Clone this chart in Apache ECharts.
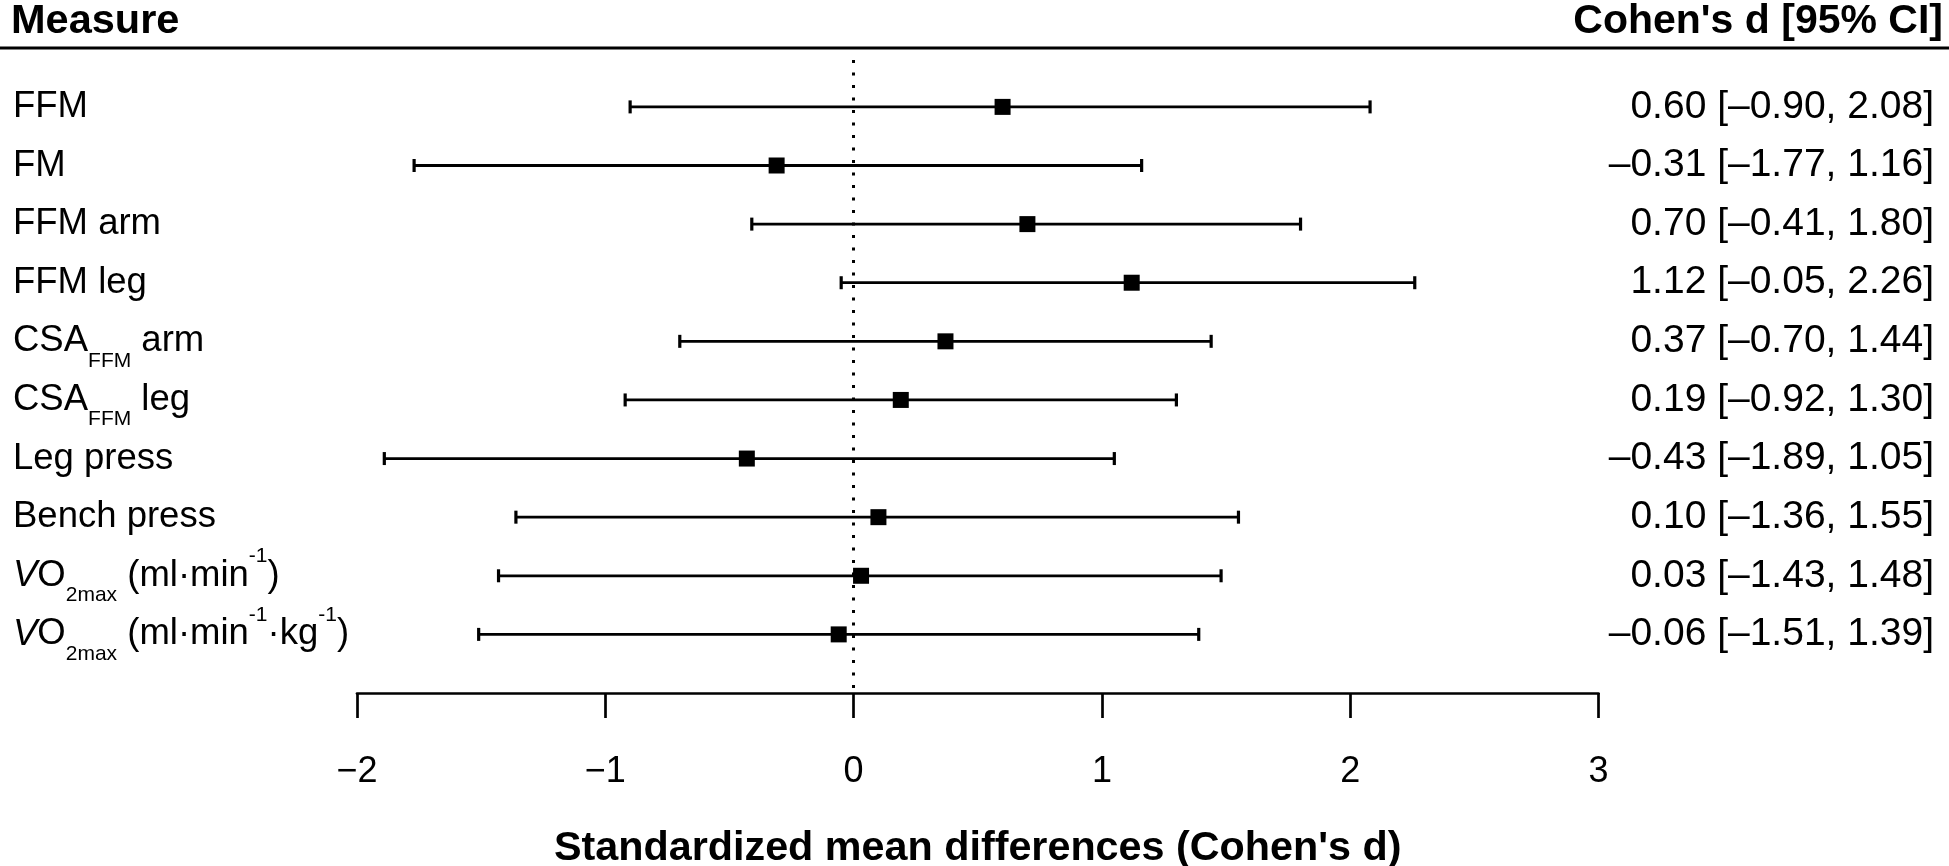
<!DOCTYPE html>
<html>
<head>
<meta charset="utf-8">
<script src="https://cdn.jsdelivr.net/npm/echarts@6/dist/echarts.min.js"></script>
<style>
  html, body { margin: 0; padding: 0; background: #fff; }
  #chart { width: 1949px; height: 866px; }
</style>
</head>
<body>
<div id="chart"></div>
<script>
// Measures (rich-text markup for sub/superscripts)
const measures = [
  'FFM',
  'FM',
  'FFM arm',
  'FFM leg',
  'CSA{sub|FFM} arm',
  'CSA{sub|FFM} leg',
  'Leg press',
  'Bench press',
  '{it|V}O{sub|2max} (ml·min{sup|-1})',
  '{it|V}O{sub|2max} (ml·min{sup|-1}·kg{sup|-1})'
];
const estimates = [0.60, -0.31, 0.70, 1.12, 0.37, 0.19, -0.43, 0.10, 0.03, -0.06];
const lowerCI   = [-0.90, -1.77, -0.41, -0.05, -0.70, -0.92, -1.89, -1.36, -1.43, -1.51];
const upperCI   = [2.08, 1.16, 1.80, 2.26, 1.44, 1.30, 1.05, 1.55, 1.48, 1.39];
const xTicks = [-2, -1, 0, 1, 2, 3];

const FONT = "'Liberation Sans', Arial, Helvetica, sans-serif";
const fmt = v => v.toFixed(2).replace('-', '\u2013');

const data = measures.map((m, i) => [i + 1, estimates[i], lowerCI[i], upperCI[i]]);

const chart = echarts.init(document.getElementById('chart'), null, { renderer: 'canvas' });

const baseRich = {
  it:  { fontFamily: FONT, fontSize: 36.5, fontStyle: 'italic', lineHeight: 60, fill: '#000' },
  sub: { fontFamily: FONT, fontSize: 21, lineHeight: 17, verticalAlign: 'bottom', fill: '#000' },
  sup: { fontFamily: FONT, fontSize: 21, lineHeight: 52, verticalAlign: 'top', fill: '#000' }
};

function renderItem(params, api) {
  const i = params.dataIndex;
  const row = api.value(0);
  const pEst = api.coord([api.value(1), row]);
  const pLo = api.coord([api.value(2), row]);
  const pHi = api.coord([api.value(3), row]);
  const y = pEst[1];
  const capH = 6.5;
  const half = 8;
  return {
    type: 'group',
    children: [
      { type: 'line', shape: { x1: pLo[0], y1: y, x2: pHi[0], y2: y },
        style: { stroke: '#000', lineWidth: 2.8 } },
      { type: 'line', shape: { x1: pLo[0], y1: y - capH, x2: pLo[0], y2: y + capH },
        style: { stroke: '#000', lineWidth: 3.2 } },
      { type: 'line', shape: { x1: pHi[0], y1: y - capH, x2: pHi[0], y2: y + capH },
        style: { stroke: '#000', lineWidth: 3.2 } },
      { type: 'rect', shape: { x: pEst[0] - half, y: y - half, width: half * 2, height: half * 2 },
        style: { fill: '#000' } },
      { type: 'text', x: 13, y: y,
        style: {
          text: measures[i],
          fontFamily: FONT, fontSize: 36.5, lineHeight: 60, fill: '#000',
          align: 'left', verticalAlign: 'middle',
          rich: baseRich
        } },
      { type: 'text', x: 1934, y: y,
        style: {
          text: fmt(estimates[i]) + ' [' + fmt(lowerCI[i]) + ', ' + fmt(upperCI[i]) + ']',
          fontFamily: FONT, fontSize: 39, fill: '#000',
          align: 'right', verticalAlign: 'middle'
        } }
    ]
  };
}

const option = {
  backgroundColor: '#fff',
  animation: false,
  title: [
    { text: 'Measure', left: 11, top: 1, padding: 0,
      textStyle: { fontFamily: FONT, fontWeight: 'bold', fontSize: 41.5, color: '#000' } },
    { text: "Cohen's d [95% CI]", right: 6, top: 1, padding: 0,
      textStyle: { fontFamily: FONT, fontWeight: 'bold', fontSize: 41, color: '#000' } }
  ],
  graphic: [
    { type: 'line', shape: { x1: 0, y1: 48, x2: 1949, y2: 48 },
      style: { stroke: '#000', lineWidth: 3 }, silent: true }
  ],
  grid: { left: 357, right: 350.5, top: 60, bottom: 173, containLabel: false, outerBoundsMode: 'none' },
  xAxis: {
    type: 'value', min: xTicks[0], max: xTicks[xTicks.length - 1], interval: 1,
    position: 'bottom',
    axisLine: { show: true, onZero: false, lineStyle: { color: '#000', width: 2.7 } },
    axisTick: { show: true, inside: false, length: 25, lineStyle: { color: '#000', width: 2.7 } },
    axisLabel: { show: true, margin: 61, color: '#000', fontFamily: FONT, fontSize: 36,
      formatter: v => String(v).replace('-', '\u2212') },
    splitLine: { show: false },
    name: "Standardized mean differences (Cohen's d)",
    nameLocation: 'middle', nameGap: 135,
    nameTextStyle: { fontFamily: FONT, fontWeight: 'bold', fontSize: 41.3, color: '#000' }
  },
  yAxis: {
    type: 'value', inverse: true, min: 0.2, max: 11, show: false, splitLine: { show: false }
  },
  series: [{
    type: 'custom',
    clip: false,
    data: data,
    renderItem: renderItem,
    encode: { x: [1, 2, 3], y: 0 },
    markLine: {
      silent: true, symbol: 'none', animation: false,
      label: { show: false },
      lineStyle: { color: '#000', width: 3, type: [3, 9.5] },
      data: [{ xAxis: 0 }]
    },
    z: 3
  }]
};

chart.setOption(option);
</script>
</body>
</html>
